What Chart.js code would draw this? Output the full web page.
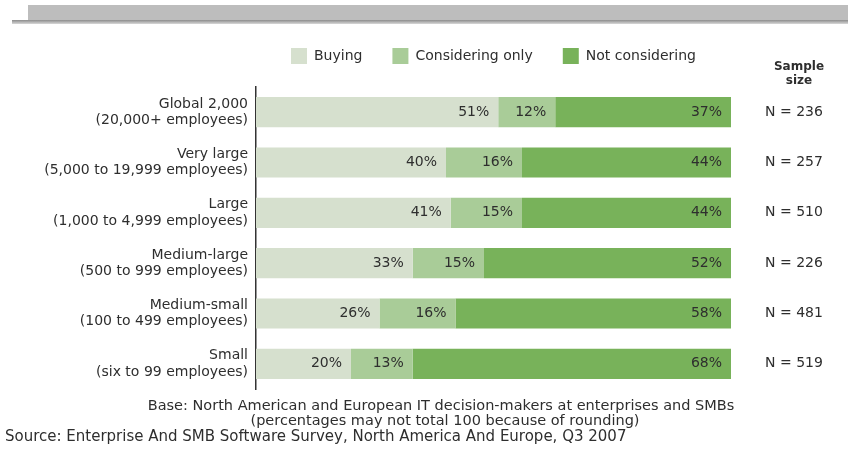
<!DOCTYPE html>
<html>
<head>
<meta charset="utf-8">
<script src="https://cdn.jsdelivr.net/npm/chart.js@4.4.1/dist/chart.umd.min.js"></script>
<style>
  html, body { margin: 0; padding: 0; background: #fff; }
</style>
</head>
<body>
<canvas id="chart" width="848" height="455"></canvas>
<script>
// company size groups (two line labels)
const categories = [
  ['Global 2,000', '(20,000+ employees)'],
  ['Very large', '(5,000 to 19,999 employees)'],
  ['Large', '(1,000 to 4,999 employees)'],
  ['Medium-large', '(500 to 999 employees)'],
  ['Medium-small', '(100 to 499 employees)'],
  ['Small', '(six to 99 employees)']
]
const seriesNames = ['Buying', 'Considering only', 'Not considering']
const buying = [51, 40, 41, 33, 26, 20]
const consideringOnly = [12, 16, 15, 15, 16, 13]
const notConsidering = [37, 44, 44, 52, 58, 68]
const sampleSizes = [236, 257, 510, 226, 481, 519]
const sampleHeader = ['Sample', 'size']
const baseNote = [
  'Base: North American and European IT decision-makers at enterprises and SMBs',
  '(percentages may not total 100 because of rounding)'
]
const sourceNote = 'Source: Enterprise And SMB Software Survey, North America And Europe, Q3 2007'

const FONT = '"DejaVu Sans", "Open Sans", sans-serif'
const TEXT = '#2e2e2e'
const colors = ['#d6e0ce', '#a9cc98', '#78b25a']

Chart.defaults.font.family = FONT
Chart.defaults.color = TEXT

// leave some room under the legend
const legendGap = {
  id: 'legendGap',
  beforeInit(chart) {
    const fit = chart.legend.fit
    chart.legend.fit = function () {
      fit.call(this)
      this.height += 13
    }
  }
}

// grey header band
const band = {
  id: 'band',
  beforeDraw(chart) {
    const ctx = chart.ctx
    ctx.save()
    ctx.fillStyle = '#bdbdbd'
    ctx.fillRect(28, 5, 820, 16)
    const g = ctx.createLinearGradient(0, 20, 0, 24)
    g.addColorStop(0, '#8c8c8c')
    g.addColorStop(1, '#d8d8d8')
    ctx.fillStyle = g
    ctx.fillRect(12, 20, 836, 4)
    ctx.restore()
  }
}

// percent labels, sample sizes, notes
const extras = {
  id: 'extras',
  afterDraw(chart) {
    const ctx = chart.ctx
    const area = chart.chartArea
    const yScale = chart.scales.y
    ctx.save()
    ctx.fillStyle = TEXT
    ctx.textBaseline = 'middle'

    ctx.font = '14px ' + FONT
    ctx.textAlign = 'right'
    chart.data.datasets.forEach((ds, di) => {
      chart.getDatasetMeta(di).data.forEach((bar, i) => {
        const x = Math.min(bar.x, area.right)
        ctx.fillText(ds.data[i] + '%', x - 9, bar.y)
      })
    })

    ctx.textAlign = 'center'
    sampleSizes.forEach((n, i) => {
      ctx.fillText('N = ' + n, 794, yScale.getPixelForValue(i))
    })

    ctx.font = 'bold 12px ' + FONT
    ctx.fillText(sampleHeader[0], 799, 67)
    ctx.fillText(sampleHeader[1], 799, 81)

    ctx.font = '14.5px ' + FONT
    ctx.fillText(baseNote[0], 441, 406)
    ctx.fillText(baseNote[1], 445, 421)
    ctx.font = '15px ' + FONT
    ctx.textAlign = 'left'
    ctx.fillText(sourceNote, 5, 437)
    ctx.restore()
  }
}

const ctx = document.getElementById('chart').getContext('2d')
new Chart(ctx, {
  type: 'bar',
  data: {
    labels: categories,
    datasets: [
      { label: seriesNames[0], data: buying, backgroundColor: colors[0] },
      { label: seriesNames[1], data: consideringOnly, backgroundColor: colors[1] },
      { label: seriesNames[2], data: notConsidering, backgroundColor: colors[2] }
    ]
  },
  options: {
    indexAxis: 'y',
    responsive: false,
    animation: false,
    devicePixelRatio: 1,
    layout: { padding: { top: 18, right: 117, bottom: 66, left: 0 } },
    datasets: { bar: { categoryPercentage: 1, barPercentage: 0.6, clip: 0, borderWidth: 0 } },
    scales: {
      x: { stacked: true, min: 0, max: 100, display: false },
      y: {
        stacked: true,
        grid: { display: false, drawTicks: false },
        border: { display: true, color: '#333', width: 1.5 },
        ticks: { color: TEXT, font: { size: 14, lineHeight: 1.15 }, padding: 8 },
        afterFit(scale) { scale.width = 256 }
      }
    },
    plugins: {
      legend: {
        position: 'top',
        fullSize: false,
        labels: { boxWidth: 16, boxHeight: 16, padding: 30, color: TEXT, font: { size: 14 } }
      },
      tooltip: { enabled: false }
    }
  },
  plugins: [legendGap, band, extras]
})
</script>
</body>
</html>
